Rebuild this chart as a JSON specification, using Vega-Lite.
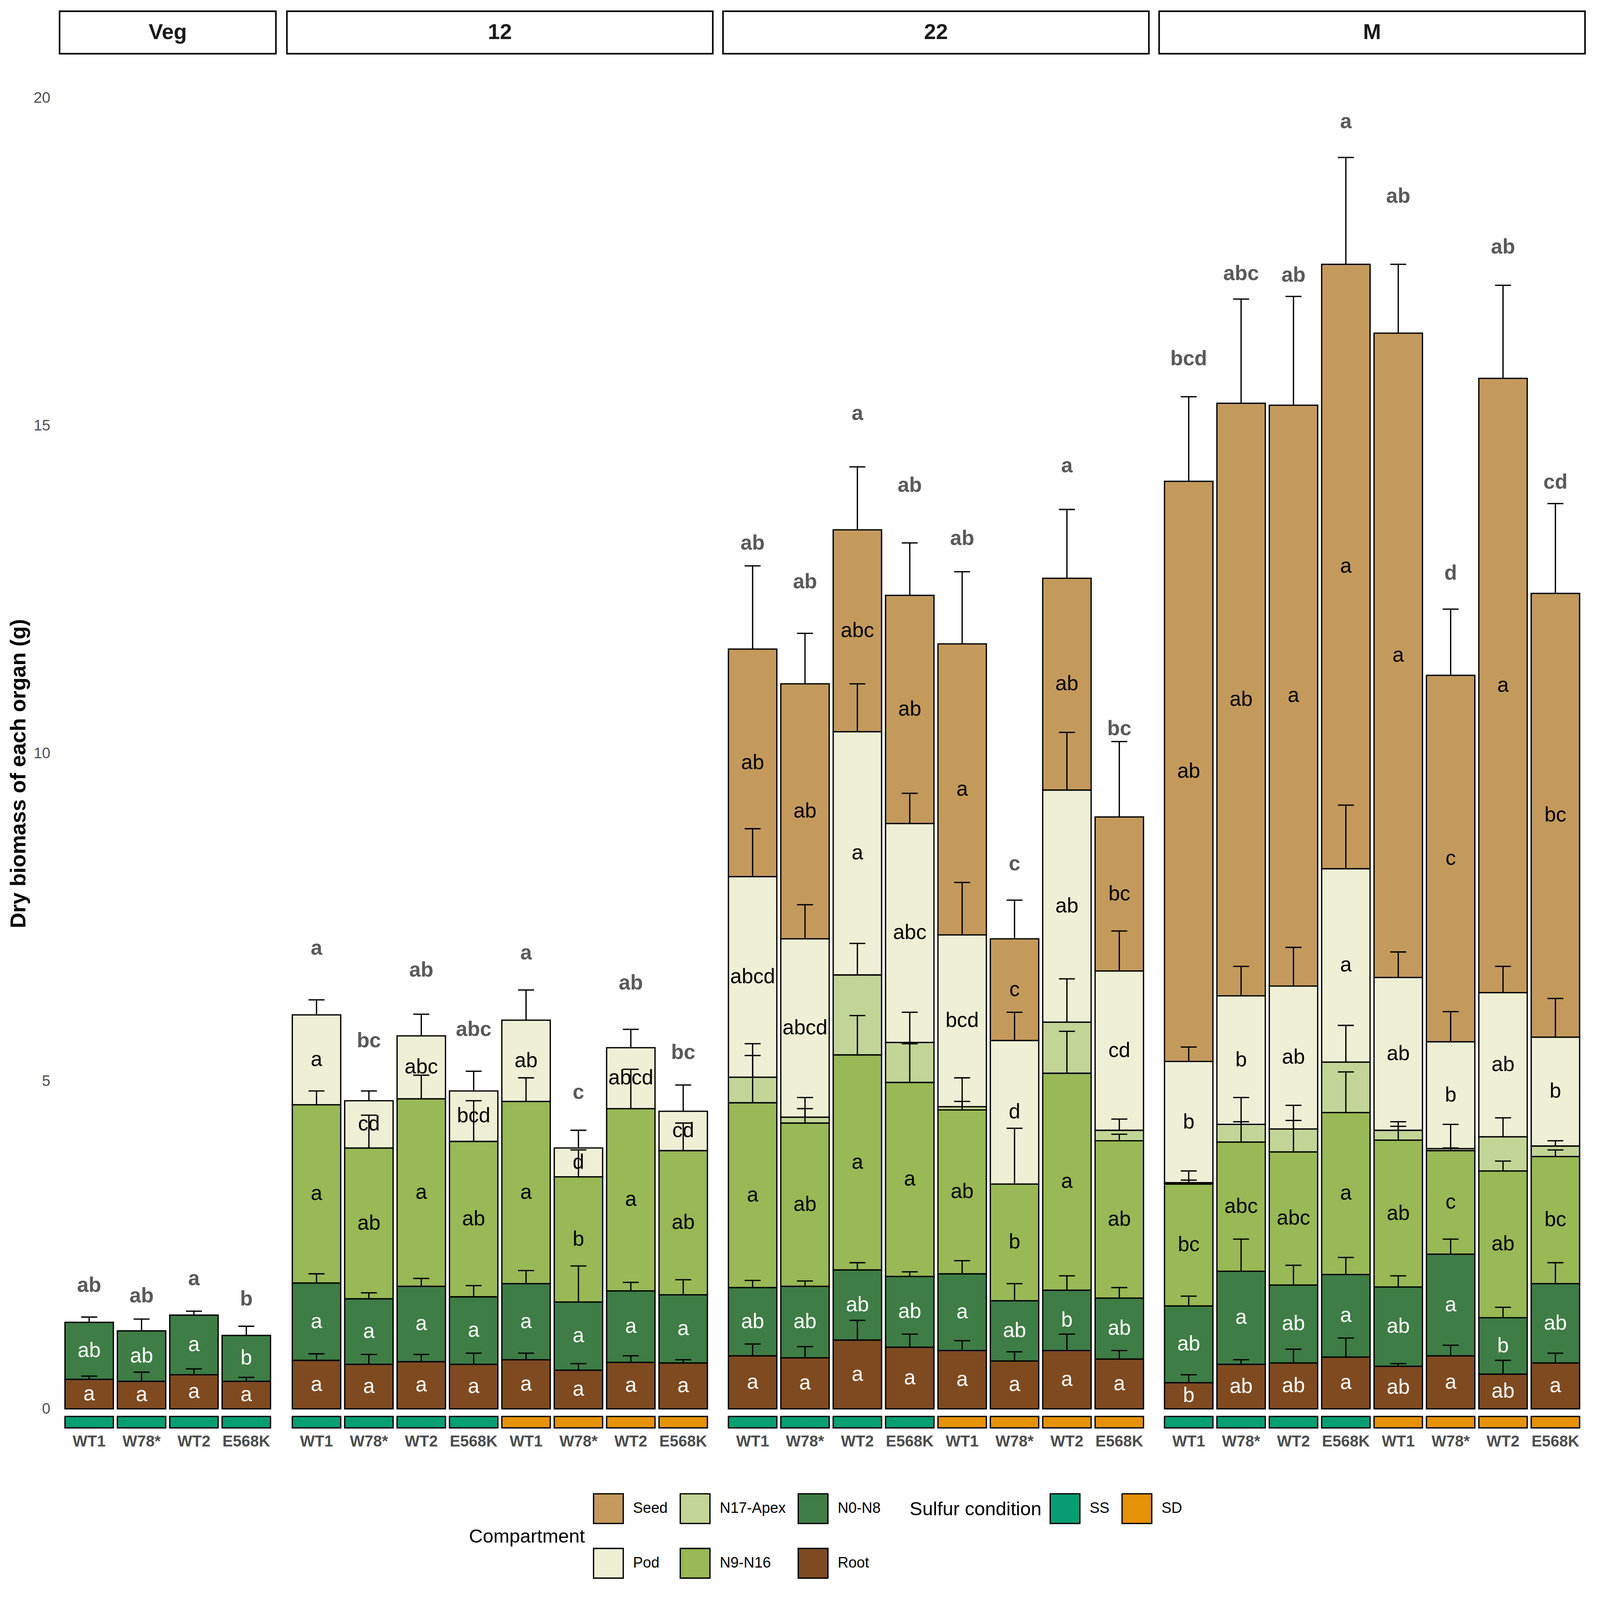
{
  "$schema": "https://vega.github.io/schema/vega-lite/v6.json",
  "width": 4085,
  "height": 4085,
  "autosize": {"type": "fit", "contains": "padding"},
  "padding": {"left": 19.5, "top": 26, "right": 24.6, "bottom": 32.4},
  "background": "white",
  "data": {
    "values": [
      {"st": "Veg", "b": "SS WT1", "s": "SS", "c": "Root", "v": 0.45, "sd": 0.05, "l": "a"},
      {"st": "Veg", "b": "SS WT1", "s": "SS", "c": "N0-N8", "v": 0.87, "sd": 0.08, "l": "ab", "tl": "ab", "tsd": 0.11},
      {"st": "Veg", "b": "SS W78*", "s": "SS", "c": "Root", "v": 0.42, "sd": 0.14, "l": "a"},
      {"st": "Veg", "b": "SS W78*", "s": "SS", "c": "N0-N8", "v": 0.77, "sd": 0.18, "l": "ab", "tl": "ab", "tsd": 0.08},
      {"st": "Veg", "b": "SS WT2", "s": "SS", "c": "Root", "v": 0.52, "sd": 0.09, "l": "a"},
      {"st": "Veg", "b": "SS WT2", "s": "SS", "c": "N0-N8", "v": 0.91, "sd": 0.06, "l": "a", "tl": "a", "tsd": 0.10},
      {"st": "Veg", "b": "SS E568K", "s": "SS", "c": "Root", "v": 0.42, "sd": 0.06, "l": "a"},
      {"st": "Veg", "b": "SS E568K", "s": "SS", "c": "N0-N8", "v": 0.70, "sd": 0.14, "l": "b", "tl": "b", "tsd": 0.10},

      {"st": "12", "b": "SS WT1", "s": "SS", "c": "Root", "v": 0.74, "sd": 0.10, "l": "a"},
      {"st": "12", "b": "SS WT1", "s": "SS", "c": "N0-N8", "v": 1.18, "sd": 0.14, "l": "a"},
      {"st": "12", "b": "SS WT1", "s": "SS", "c": "N9-N16", "v": 2.72, "sd": 0.21, "l": "a"},
      {"st": "12", "b": "SS WT1", "s": "SS", "c": "Pod", "v": 1.37, "sd": 0.23, "l": "a", "tl": "a", "tsd": 0.56},
      {"st": "12", "b": "SS W78*", "s": "SS", "c": "Root", "v": 0.68, "sd": 0.15, "l": "a"},
      {"st": "12", "b": "SS W78*", "s": "SS", "c": "N0-N8", "v": 1.00, "sd": 0.09, "l": "a"},
      {"st": "12", "b": "SS W78*", "s": "SS", "c": "N9-N16", "v": 2.30, "sd": 0.50, "l": "ab"},
      {"st": "12", "b": "SS W78*", "s": "SS", "c": "Pod", "v": 0.72, "sd": 0.15, "l": "cd", "tl": "bc", "tsd": 0.46},
      {"st": "12", "b": "SS WT2", "s": "SS", "c": "Root", "v": 0.72, "sd": 0.11, "l": "a"},
      {"st": "12", "b": "SS WT2", "s": "SS", "c": "N0-N8", "v": 1.15, "sd": 0.12, "l": "a"},
      {"st": "12", "b": "SS WT2", "s": "SS", "c": "N9-N16", "v": 2.86, "sd": 0.36, "l": "a"},
      {"st": "12", "b": "SS WT2", "s": "SS", "c": "Pod", "v": 0.96, "sd": 0.33, "l": "abc", "tl": "ab", "tsd": 0.55},
      {"st": "12", "b": "SS E568K", "s": "SS", "c": "Root", "v": 0.68, "sd": 0.17, "l": "a"},
      {"st": "12", "b": "SS E568K", "s": "SS", "c": "N0-N8", "v": 1.03, "sd": 0.17, "l": "a"},
      {"st": "12", "b": "SS E568K", "s": "SS", "c": "N9-N16", "v": 2.37, "sd": 0.62, "l": "ab"},
      {"st": "12", "b": "SS E568K", "s": "SS", "c": "Pod", "v": 0.77, "sd": 0.30, "l": "bcd", "tl": "abc", "tsd": 0.48},
      {"st": "12", "b": "SD WT1", "s": "SD", "c": "Root", "v": 0.75, "sd": 0.10, "l": "a"},
      {"st": "12", "b": "SD WT1", "s": "SD", "c": "N0-N8", "v": 1.16, "sd": 0.20, "l": "a"},
      {"st": "12", "b": "SD WT1", "s": "SD", "c": "N9-N16", "v": 2.78, "sd": 0.36, "l": "a"},
      {"st": "12", "b": "SD WT1", "s": "SD", "c": "Pod", "v": 1.24, "sd": 0.46, "l": "ab", "tl": "a", "tsd": 0.57},
      {"st": "12", "b": "SD W78*", "s": "SD", "c": "Root", "v": 0.59, "sd": 0.10, "l": "a"},
      {"st": "12", "b": "SD W78*", "s": "SD", "c": "N0-N8", "v": 1.04, "sd": 0.55, "l": "a"},
      {"st": "12", "b": "SD W78*", "s": "SD", "c": "N9-N16", "v": 1.91, "sd": 0.41, "l": "b"},
      {"st": "12", "b": "SD W78*", "s": "SD", "c": "Pod", "v": 0.44, "sd": 0.27, "l": "d", "tl": "c", "tsd": 0.39},
      {"st": "12", "b": "SD WT2", "s": "SD", "c": "Root", "v": 0.71, "sd": 0.10, "l": "a"},
      {"st": "12", "b": "SD WT2", "s": "SD", "c": "N0-N8", "v": 1.09, "sd": 0.13, "l": "a"},
      {"st": "12", "b": "SD WT2", "s": "SD", "c": "N9-N16", "v": 2.78, "sd": 0.60, "l": "a"},
      {"st": "12", "b": "SD WT2", "s": "SD", "c": "Pod", "v": 0.93, "sd": 0.28, "l": "abcd", "tl": "ab", "tsd": 0.53},
      {"st": "12", "b": "SD E568K", "s": "SD", "c": "Root", "v": 0.70, "sd": 0.05, "l": "a"},
      {"st": "12", "b": "SD E568K", "s": "SD", "c": "N0-N8", "v": 1.04, "sd": 0.23, "l": "a"},
      {"st": "12", "b": "SD E568K", "s": "SD", "c": "N9-N16", "v": 2.20, "sd": 0.42, "l": "ab"},
      {"st": "12", "b": "SD E568K", "s": "SD", "c": "Pod", "v": 0.60, "sd": 0.40, "l": "cd", "tl": "bc", "tsd": 0.44},

      {"st": "22", "b": "SS WT1", "s": "SS", "c": "Root", "v": 0.81, "sd": 0.18, "l": "a"},
      {"st": "22", "b": "SS WT1", "s": "SS", "c": "N0-N8", "v": 1.04, "sd": 0.11, "l": "ab"},
      {"st": "22", "b": "SS WT1", "s": "SS", "c": "N9-N16", "v": 2.82, "sd": 0.72, "l": "a"},
      {"st": "22", "b": "SS WT1", "s": "SS", "c": "N17-Apex", "v": 0.39, "sd": 0.51},
      {"st": "22", "b": "SS WT1", "s": "SS", "c": "Pod", "v": 3.06, "sd": 0.73, "l": "abcd"},
      {"st": "22", "b": "SS WT1", "s": "SS", "c": "Seed", "v": 3.47, "sd": 1.27, "l": "ab", "tl": "ab", "tsd": 1.16},
      {"st": "22", "b": "SS W78*", "s": "SS", "c": "Root", "v": 0.78, "sd": 0.17, "l": "a"},
      {"st": "22", "b": "SS W78*", "s": "SS", "c": "N0-N8", "v": 1.09, "sd": 0.08, "l": "ab"},
      {"st": "22", "b": "SS W78*", "s": "SS", "c": "N9-N16", "v": 2.49, "sd": 0.22, "l": "ab"},
      {"st": "22", "b": "SS W78*", "s": "SS", "c": "N17-Apex", "v": 0.09, "sd": 0.30},
      {"st": "22", "b": "SS W78*", "s": "SS", "c": "Pod", "v": 2.72, "sd": 0.52, "l": "abcd"},
      {"st": "22", "b": "SS W78*", "s": "SS", "c": "Seed", "v": 3.89, "sd": 0.77, "l": "ab", "tl": "ab", "tsd": 1.10},
      {"st": "22", "b": "SS WT2", "s": "SS", "c": "Root", "v": 1.05, "sd": 0.30, "l": "a"},
      {"st": "22", "b": "SS WT2", "s": "SS", "c": "N0-N8", "v": 1.07, "sd": 0.11, "l": "ab"},
      {"st": "22", "b": "SS WT2", "s": "SS", "c": "N9-N16", "v": 3.28, "sd": 0.60, "l": "a"},
      {"st": "22", "b": "SS WT2", "s": "SS", "c": "N17-Apex", "v": 1.22, "sd": 0.48},
      {"st": "22", "b": "SS WT2", "s": "SS", "c": "Pod", "v": 3.71, "sd": 0.73, "l": "a"},
      {"st": "22", "b": "SS WT2", "s": "SS", "c": "Seed", "v": 3.08, "sd": 0.96, "l": "abc", "tl": "a", "tsd": 1.32},
      {"st": "22", "b": "SS E568K", "s": "SS", "c": "Root", "v": 0.94, "sd": 0.20, "l": "a"},
      {"st": "22", "b": "SS E568K", "s": "SS", "c": "N0-N8", "v": 1.08, "sd": 0.07, "l": "ab"},
      {"st": "22", "b": "SS E568K", "s": "SS", "c": "N9-N16", "v": 2.96, "sd": 0.59, "l": "a"},
      {"st": "22", "b": "SS E568K", "s": "SS", "c": "N17-Apex", "v": 0.61, "sd": 0.46},
      {"st": "22", "b": "SS E568K", "s": "SS", "c": "Pod", "v": 3.34, "sd": 0.46, "l": "abc"},
      {"st": "22", "b": "SS E568K", "s": "SS", "c": "Seed", "v": 3.48, "sd": 0.80, "l": "ab", "tl": "ab", "tsd": 1.22},
      {"st": "22", "b": "SD WT1", "s": "SD", "c": "Root", "v": 0.89, "sd": 0.15, "l": "a"},
      {"st": "22", "b": "SD WT1", "s": "SD", "c": "N0-N8", "v": 1.17, "sd": 0.20, "l": "a"},
      {"st": "22", "b": "SD WT1", "s": "SD", "c": "N9-N16", "v": 2.50, "sd": 0.13, "l": "ab"},
      {"st": "22", "b": "SD WT1", "s": "SD", "c": "N17-Apex", "v": 0.05, "sd": 0.44},
      {"st": "22", "b": "SD WT1", "s": "SD", "c": "Pod", "v": 2.62, "sd": 0.80, "l": "bcd"},
      {"st": "22", "b": "SD WT1", "s": "SD", "c": "Seed", "v": 4.44, "sd": 1.10, "l": "a", "tl": "ab", "tsd": 1.15},
      {"st": "22", "b": "SD W78*", "s": "SD", "c": "Root", "v": 0.73, "sd": 0.14, "l": "a"},
      {"st": "22", "b": "SD W78*", "s": "SD", "c": "N0-N8", "v": 0.92, "sd": 0.26, "l": "ab"},
      {"st": "22", "b": "SD W78*", "s": "SD", "c": "N9-N16", "v": 1.78, "sd": 0.85, "l": "b"},
      {"st": "22", "b": "SD W78*", "s": "SD", "c": "Pod", "v": 2.19, "sd": 0.43, "l": "d"},
      {"st": "22", "b": "SD W78*", "s": "SD", "c": "Seed", "v": 1.55, "sd": 0.59, "l": "c", "tl": "c", "tsd": 0.69},
      {"st": "22", "b": "SD WT2", "s": "SD", "c": "Root", "v": 0.89, "sd": 0.25, "l": "a"},
      {"st": "22", "b": "SD WT2", "s": "SD", "c": "N0-N8", "v": 0.92, "sd": 0.22, "l": "b"},
      {"st": "22", "b": "SD WT2", "s": "SD", "c": "N9-N16", "v": 3.31, "sd": 0.64, "l": "a"},
      {"st": "22", "b": "SD WT2", "s": "SD", "c": "N17-Apex", "v": 0.78, "sd": 0.66},
      {"st": "22", "b": "SD WT2", "s": "SD", "c": "Pod", "v": 3.54, "sd": 0.88, "l": "ab"},
      {"st": "22", "b": "SD WT2", "s": "SD", "c": "Seed", "v": 3.23, "sd": 1.05, "l": "ab", "tl": "a", "tsd": 1.26},
      {"st": "22", "b": "SD E568K", "s": "SD", "c": "Root", "v": 0.76, "sd": 0.13, "l": "a"},
      {"st": "22", "b": "SD E568K", "s": "SD", "c": "N0-N8", "v": 0.93, "sd": 0.16, "l": "ab"},
      {"st": "22", "b": "SD E568K", "s": "SD", "c": "N9-N16", "v": 2.40, "sd": 0.10, "l": "ab"},
      {"st": "22", "b": "SD E568K", "s": "SD", "c": "N17-Apex", "v": 0.16, "sd": 0.17},
      {"st": "22", "b": "SD E568K", "s": "SD", "c": "Pod", "v": 2.43, "sd": 0.61, "l": "cd"},
      {"st": "22", "b": "SD E568K", "s": "SD", "c": "Seed", "v": 2.35, "sd": 1.15, "l": "bc", "tl": "bc", "tsd": 0.89},

      {"st": "M", "b": "SS WT1", "s": "SS", "c": "Root", "v": 0.40, "sd": 0.12, "l": "b"},
      {"st": "M", "b": "SS WT1", "s": "SS", "c": "N0-N8", "v": 1.17, "sd": 0.15, "l": "ab"},
      {"st": "M", "b": "SS WT1", "s": "SS", "c": "N9-N16", "v": 1.86, "sd": 0.06, "l": "bc"},
      {"st": "M", "b": "SS WT1", "s": "SS", "c": "N17-Apex", "v": 0.02, "sd": 0.18},
      {"st": "M", "b": "SS WT1", "s": "SS", "c": "Pod", "v": 1.85, "sd": 0.22, "l": "b"},
      {"st": "M", "b": "SS WT1", "s": "SS", "c": "Seed", "v": 8.85, "sd": 1.29, "l": "ab", "tl": "bcd", "tsd": 1.41},
      {"st": "M", "b": "SS W78*", "s": "SS", "c": "Root", "v": 0.68, "sd": 0.07, "l": "ab"},
      {"st": "M", "b": "SS W78*", "s": "SS", "c": "N0-N8", "v": 1.42, "sd": 0.49, "l": "a"},
      {"st": "M", "b": "SS W78*", "s": "SS", "c": "N9-N16", "v": 1.97, "sd": 0.31, "l": "abc"},
      {"st": "M", "b": "SS W78*", "s": "SS", "c": "N17-Apex", "v": 0.27, "sd": 0.41},
      {"st": "M", "b": "SS W78*", "s": "SS", "c": "Pod", "v": 1.96, "sd": 0.45, "l": "b"},
      {"st": "M", "b": "SS W78*", "s": "SS", "c": "Seed", "v": 9.04, "sd": 1.59, "l": "ab", "tl": "abc", "tsd": 1.52},
      {"st": "M", "b": "SS WT2", "s": "SS", "c": "Root", "v": 0.70, "sd": 0.21, "l": "ab"},
      {"st": "M", "b": "SS WT2", "s": "SS", "c": "N0-N8", "v": 1.19, "sd": 0.30, "l": "ab"},
      {"st": "M", "b": "SS WT2", "s": "SS", "c": "N9-N16", "v": 2.03, "sd": 0.48, "l": "abc"},
      {"st": "M", "b": "SS WT2", "s": "SS", "c": "N17-Apex", "v": 0.35, "sd": 0.36},
      {"st": "M", "b": "SS WT2", "s": "SS", "c": "Pod", "v": 2.18, "sd": 0.59, "l": "ab"},
      {"st": "M", "b": "SS WT2", "s": "SS", "c": "Seed", "v": 8.86, "sd": 1.66, "l": "a", "tl": "ab", "tsd": 1.53},
      {"st": "M", "b": "SS E568K", "s": "SS", "c": "Root", "v": 0.79, "sd": 0.29, "l": "a"},
      {"st": "M", "b": "SS E568K", "s": "SS", "c": "N0-N8", "v": 1.26, "sd": 0.26, "l": "a"},
      {"st": "M", "b": "SS E568K", "s": "SS", "c": "N9-N16", "v": 2.47, "sd": 0.62, "l": "a"},
      {"st": "M", "b": "SS E568K", "s": "SS", "c": "N17-Apex", "v": 0.77, "sd": 0.56},
      {"st": "M", "b": "SS E568K", "s": "SS", "c": "Pod", "v": 2.95, "sd": 0.97, "l": "a"},
      {"st": "M", "b": "SS E568K", "s": "SS", "c": "Seed", "v": 9.22, "sd": 1.63, "l": "a", "tl": "a", "tsd": 1.72},
      {"st": "M", "b": "SD WT1", "s": "SD", "c": "Root", "v": 0.65, "sd": 0.04, "l": "ab"},
      {"st": "M", "b": "SD WT1", "s": "SD", "c": "N0-N8", "v": 1.21, "sd": 0.17, "l": "ab"},
      {"st": "M", "b": "SD WT1", "s": "SD", "c": "N9-N16", "v": 2.24, "sd": 0.21, "l": "ab"},
      {"st": "M", "b": "SD WT1", "s": "SD", "c": "N17-Apex", "v": 0.15, "sd": 0.13},
      {"st": "M", "b": "SD WT1", "s": "SD", "c": "Pod", "v": 2.33, "sd": 0.39, "l": "ab"},
      {"st": "M", "b": "SD WT1", "s": "SD", "c": "Seed", "v": 9.83, "sd": 1.05, "l": "a", "tl": "ab", "tsd": 1.63},
      {"st": "M", "b": "SD W78*", "s": "SD", "c": "Root", "v": 0.81, "sd": 0.16, "l": "a"},
      {"st": "M", "b": "SD W78*", "s": "SD", "c": "N0-N8", "v": 1.55, "sd": 0.23, "l": "a"},
      {"st": "M", "b": "SD W78*", "s": "SD", "c": "N9-N16", "v": 1.58, "sd": 0.04, "l": "c"},
      {"st": "M", "b": "SD W78*", "s": "SD", "c": "N17-Apex", "v": 0.03, "sd": 0.37},
      {"st": "M", "b": "SD W78*", "s": "SD", "c": "Pod", "v": 1.63, "sd": 0.46, "l": "b"},
      {"st": "M", "b": "SD W78*", "s": "SD", "c": "Seed", "v": 5.59, "sd": 1.01, "l": "c", "tl": "d", "tsd": 1.10},
      {"st": "M", "b": "SD WT2", "s": "SD", "c": "Root", "v": 0.53, "sd": 0.21, "l": "ab"},
      {"st": "M", "b": "SD WT2", "s": "SD", "c": "N0-N8", "v": 0.86, "sd": 0.16, "l": "b"},
      {"st": "M", "b": "SD WT2", "s": "SD", "c": "N9-N16", "v": 2.24, "sd": 0.15, "l": "ab"},
      {"st": "M", "b": "SD WT2", "s": "SD", "c": "N17-Apex", "v": 0.52, "sd": 0.29},
      {"st": "M", "b": "SD WT2", "s": "SD", "c": "Pod", "v": 2.20, "sd": 0.40, "l": "ab"},
      {"st": "M", "b": "SD WT2", "s": "SD", "c": "Seed", "v": 9.37, "sd": 1.42, "l": "a", "tl": "ab", "tsd": 1.55},
      {"st": "M", "b": "SD E568K", "s": "SD", "c": "Root", "v": 0.70, "sd": 0.15, "l": "a"},
      {"st": "M", "b": "SD E568K", "s": "SD", "c": "N0-N8", "v": 1.21, "sd": 0.32, "l": "ab"},
      {"st": "M", "b": "SD E568K", "s": "SD", "c": "N9-N16", "v": 1.94, "sd": 0.10, "l": "bc"},
      {"st": "M", "b": "SD E568K", "s": "SD", "c": "N17-Apex", "v": 0.16, "sd": 0.08},
      {"st": "M", "b": "SD E568K", "s": "SD", "c": "Pod", "v": 1.66, "sd": 0.59, "l": "b"},
      {"st": "M", "b": "SD E568K", "s": "SD", "c": "Seed", "v": 6.77, "sd": 1.37, "l": "bc", "tl": "cd", "tsd": 1.24}
    ]
  },
  "transform": [
    {"calculate": "indexof(['SS WT1','SS W78*','SS WT2','SS E568K','SD WT1','SD W78*','SD WT2','SD E568K'], datum.b) + [0, 4.34, 12.665, 20.99][indexof(['Veg','12','22','M'], datum.st)]", "as": "xs"},
    {"calculate": "datum.xs - 0.462", "as": "xl"},
    {"calculate": "datum.xs + 0.462", "as": "xr"},
    {"calculate": "split(datum.b, ' ')[1]", "as": "geno"},
    {"calculate": "indexof(['Root','N0-N8','N9-N16','N17-Apex','Pod','Seed'], datum.c)", "as": "ord"},
    {"stack": "v", "groupby": ["st", "b"], "sort": [{"field": "ord", "order": "ascending"}], "as": ["y0", "y1"]},
    {"calculate": "datum.y1 + datum.sd", "as": "ye"},
    {"calculate": "(datum.y0 + datum.y1) / 2", "as": "ym"}
  ],
  "layer": [
    {
      "mark": {"type": "rect", "stroke": "black", "strokeWidth": 3.3},
      "encoding": {
        "x": {"field": "xl", "type": "quantitative", "scale": {"domain": [-0.565, 28.546], "nice": false, "zero": false}, "axis": null},
        "x2": {"field": "xr"},
        "y": {"field": "y0", "type": "quantitative", "title": "Dry biomass of each organ (g)", "scale": {"domain": [-2.657, 21.325], "nice": false, "zero": false},
              "axis": {"values": [0, 5, 10, 15, 20], "format": "d", "title": "Dry biomass of each organ (g)", "titleY": 1952}},
        "y2": {"field": "y1"},
        "color": {"field": "c", "type": "nominal",
                  "scale": {"domain": ["Seed", "N17-Apex", "N0-N8", "Pod", "N9-N16", "Root"], "range": ["#C49A5C", "#C2D596", "#3E7D45", "#EEEFD4", "#98B955", "#7F4A20"]},
                  "legend": {"title": "Compartment", "orient": "none", "legendX": 1048, "legendY": 3794, "columns": 3, "direction": "horizontal"}}
      }
    },
    {
      "mark": {"type": "rule", "strokeWidth": 3.3, "color": "black"},
      "encoding": {
        "x": {"field": "xs", "type": "quantitative", "scale": {"domain": [-0.565, 28.546], "nice": false, "zero": false}, "axis": null},
        "y": {"field": "y1", "type": "quantitative", "title": "Dry biomass of each organ (g)", "scale": {"domain": [-2.657, 21.325], "nice": false, "zero": false}},
        "y2": {"field": "ye"}
      }
    },
    {
      "mark": {"type": "tick", "orient": "horizontal", "size": 41, "thickness": 3.3, "color": "black", "opacity": 1},
      "encoding": {
        "x": {"field": "xs", "type": "quantitative", "scale": {"domain": [-0.565, 28.546], "nice": false, "zero": false}, "axis": null},
        "y": {"field": "ye", "type": "quantitative", "title": "Dry biomass of each organ (g)", "scale": {"domain": [-2.657, 21.325], "nice": false, "zero": false}}
      }
    },
    {
      "transform": [{"filter": "datum.c == 'Root'"}],
      "mark": {"type": "rect", "stroke": "black", "strokeWidth": 3.3},
      "encoding": {
        "x": {"field": "xl", "type": "quantitative", "scale": {"domain": [-0.565, 28.546], "nice": false, "zero": false}, "axis": null},
        "x2": {"field": "xr"},
        "y": {"datum": -0.116, "type": "quantitative", "title": "Dry biomass of each organ (g)", "scale": {"domain": [-2.657, 21.325], "nice": false, "zero": false}},
        "y2": {"datum": -0.29},
        "fill": {"field": "s", "type": "nominal", "scale": {"domain": ["SS", "SD"], "range": ["#079E73", "#E69208"]},
                 "legend": {"title": "Sulfur condition", "orient": "none", "legendX": 2176, "legendY": 3794, "direction": "horizontal"}}
      }
    },
    {
      "transform": [
        {"aggregate": [{"op": "min", "field": "xs", "as": "mn"}, {"op": "max", "field": "xs", "as": "mx"}], "groupby": ["st"]},
        {"calculate": "datum.mn - 0.565", "as": "h0"},
        {"calculate": "datum.mx + 0.565", "as": "h1"}
      ],
      "mark": {"type": "rect", "fill": "white", "stroke": "black", "strokeWidth": 4},
      "encoding": {
        "x": {"field": "h0", "type": "quantitative", "scale": {"domain": [-0.565, 28.546], "nice": false, "zero": false}, "axis": null},
        "x2": {"field": "h1"},
        "y": {"datum": 21.32, "type": "quantitative", "title": "Dry biomass of each organ (g)", "scale": {"domain": [-2.657, 21.325], "nice": false, "zero": false}},
        "y2": {"datum": 20.672}
      }
    },
    {
      "transform": [
        {"aggregate": [{"op": "min", "field": "xs", "as": "mn"}, {"op": "max", "field": "xs", "as": "mx"}], "groupby": ["st"]},
        {"calculate": "(datum.mn + datum.mx) / 2", "as": "hm"}
      ],
      "mark": {"type": "text", "fontSize": 55, "fontWeight": "bold", "color": "#1a1a1a", "baseline": "middle", "align": "center"},
      "encoding": {
        "x": {"field": "hm", "type": "quantitative", "scale": {"domain": [-0.565, 28.546], "nice": false, "zero": false}, "axis": null},
        "y": {"datum": 20.998, "type": "quantitative", "title": "Dry biomass of each organ (g)", "scale": {"domain": [-2.657, 21.325], "nice": false, "zero": false}},
        "text": {"field": "st"}
      }
    },
    {
      "transform": [{"filter": "isValid(datum.l)"}],
      "mark": {"type": "text", "fontSize": 53, "baseline": "middle", "align": "center"},
      "encoding": {
        "x": {"field": "xs", "type": "quantitative", "scale": {"domain": [-0.565, 28.546], "nice": false, "zero": false}, "axis": null},
        "y": {"field": "ym", "type": "quantitative", "title": "Dry biomass of each organ (g)", "scale": {"domain": [-2.657, 21.325], "nice": false, "zero": false}},
        "text": {"field": "l"},
        "color": {"condition": {"test": "datum.c == 'Root' || datum.c == 'N0-N8'", "value": "white"}, "value": "black"}
      }
    },
    {
      "transform": [{"filter": "isValid(datum.tl)"}, {"calculate": "datum.y1 + datum.tsd", "as": "yt"}],
      "mark": {"type": "text", "fontSize": 53, "fontWeight": "bold", "color": "#595959", "baseline": "middle", "align": "center", "dy": -76},
      "encoding": {
        "x": {"field": "xs", "type": "quantitative", "scale": {"domain": [-0.565, 28.546], "nice": false, "zero": false}, "axis": null},
        "y": {"field": "yt", "type": "quantitative", "title": "Dry biomass of each organ (g)", "scale": {"domain": [-2.657, 21.325], "nice": false, "zero": false}},
        "text": {"field": "tl"}
      }
    },
    {
      "transform": [{"filter": "datum.c == 'Root'"}],
      "mark": {"type": "text", "fontSize": 40, "fontWeight": "bold", "color": "#4d4d4d", "baseline": "middle", "align": "center"},
      "encoding": {
        "x": {"field": "xs", "type": "quantitative", "scale": {"domain": [-0.565, 28.546], "nice": false, "zero": false}, "axis": null},
        "y": {"datum": -0.502, "type": "quantitative", "title": "Dry biomass of each organ (g)", "scale": {"domain": [-2.657, 21.325], "nice": false, "zero": false}},
        "text": {"field": "geno"}
      }
    }
  ],
  "config": {
    "font": "Liberation Sans",
    "view": {"stroke": null},
    "axisY": {"domain": false, "ticks": false, "grid": false, "labelFontSize": 38.5, "labelColor": "#4d4d4d", "labelPadding": 24,
              "titleFontSize": 55, "titleFontWeight": "bold", "titleColor": "black", "titlePadding": 9.5},
    "legend": {"titleOrient": "left", "titleAnchor": "middle", "titleBaseline": "middle", "titleFontSize": 49, "titleFontWeight": "normal",
               "titleColor": "black", "titlePadding": 20, "labelFontSize": 38, "labelColor": "black", "labelOffset": 23, "padding": 0,
               "symbolType": "square", "symbolSize": 5776, "symbolStrokeColor": "black", "symbolStrokeWidth": 3.3, "symbolOpacity": 1,
               "columnPadding": 25, "rowPadding": 50, "labelLimit": 1000, "titleLimit": 2000}
  }
}
